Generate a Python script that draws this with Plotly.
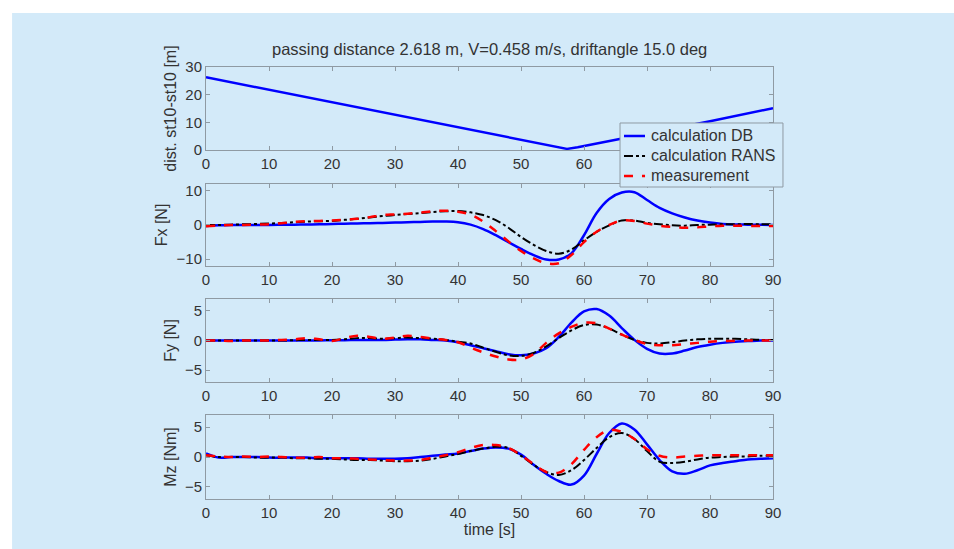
import plotly.graph_objects as go
from plotly.subplots import make_subplots

# ---------------- data ----------------
dist_time = [0, 10, 20, 30, 40, 50, 56, 57.3, 59, 70, 80, 90]
dist_db = [26.3, 21.8, 17.3, 12.7, 8.1, 3.6, 0.9, 0.4, 1.0, 5.9, 10.4, 15.1]

time = list(range(0, 92, 2))

fx_db = [-0.3, -0.1, 0, 0, 0, 0, 0.05, 0.1, 0.15, 0.2, 0.3, 0.35, 0.45, 0.5, 0.6, 0.7,
         0.8, 0.9, 1.0, 1.0, 0.8, 0.1, -1.2, -3.0, -5.0, -7.0, -8.8, -10.1, -10.1, -8.3,
         -3.0, 3.5, 7.6, 9.5, 9.6, 7.3, 5.0, 3.4, 2.2, 1.3, 0.7, 0.3, 0.15, 0.1, 0.05, 0]
fx_rans = [0, 0, 0.1, 0.2, 0.3, 0.4, 0.6, 0.8, 1.0, 1.1, 1.2, 1.5, 1.8, 2.2, 2.6, 2.9,
           3.2, 3.5, 3.8, 4.0, 4.1, 3.7, 2.9, 1.4, -0.8, -3.5, -5.8, -7.6, -8.4, -7.2,
           -4.5, -2.0, -0.1, 1.3, 1.3, 0.6, 0.2, -0.1, -0.2, 0.0, 0.1, 0.2, 0.2, 0.3, 0.2, 0.2]
fx_meas = [-0.4, -0.2, 0, 0, 0.1, 0.2, 0.5, 0.9, 1.1, 1.2, 1.3, 1.5, 1.8, 2.3, 2.9, 3.1,
           3.3, 3.6, 4.0, 4.2, 3.9, 3.0, 1.0, -1.8, -4.8, -7.6, -9.8, -11.2, -11.2, -8.8,
           -5.0, -2.0, 0.0, 1.3, 1.2, 0.4, -0.2, -0.6, -0.8, -0.7, -0.4, -0.2, -0.2, -0.3, -0.3, -0.3]

fy_db = [0, 0, 0, 0, 0, 0, 0, 0, 0, 0, 0.05, 0.05, 0.1, 0.1, 0.1, 0.15,
         0.2, 0.2, 0.1, 0, -0.3, -0.8, -1.3, -1.8, -2.3, -2.5, -2.2, -1.3, 0.6, 3.0,
         4.9, 5.3, 4.2, 2.1, 0.1, -1.4, -2.2, -2.2, -1.7, -1.1, -0.7, -0.4, -0.2, -0.1, 0, 0]
fy_rans = [0, 0, 0, 0, 0, 0, 0, 0.05, 0.1, 0.1, 0.1, 0.2, 0.4, 0.4, 0.3, 0.4,
           0.5, 0.4, 0.3, 0.1, -0.2, -0.5, -1.2, -1.9, -2.5, -2.6, -2.1, -1.0, 0.4, 1.7,
           2.6, 2.7, 2.0, 1.0, 0.1, -0.4, -0.5, -0.3, 0, 0.2, 0.3, 0.3, 0.3, 0.2, 0.1, 0.1]
fy_meas = [0, 0, -0.1, 0, 0, 0, 0.1, 0.2, 0.4, 0.2, -0.1, 0.4, 0.8, 0.6, 0.3, 0.5,
           0.8, 0.6, 0.3, 0.1, -0.3, -1.2, -2.0, -2.7, -3.2, -3.2, -2.3, -0.4, 1.2, 2.3,
           3.0, 2.9, 2.0, 1.0, 0.1, -0.6, -0.8, -0.8, -0.6, -0.4, -0.2, -0.1, -0.1, 0, 0, 0]

mz_db = [0.6, -0.1, 0, 0, 0, -0.1, -0.1, -0.1, -0.1, -0.2, -0.2, -0.2, -0.2, -0.3, -0.3, -0.3,
         -0.2, 0.0, 0.2, 0.4, 0.6, 1.0, 1.4, 1.6, 1.4, 0.4, -1.3, -2.8, -4.0, -4.6,
         -3.1, 0.5, 4.0, 5.6, 4.6, 2.1, -0.5, -2.4, -2.8, -2.2, -1.4, -1.0, -0.7, -0.4, -0.3, -0.2]
mz_rans = [0.3, 0, 0, 0, -0.1, -0.1, -0.1, -0.2, -0.2, -0.3, -0.3, -0.4, -0.5, -0.5, -0.6, -0.7,
           -0.7, -0.6, -0.3, 0.1, 0.5, 1.0, 1.4, 1.7, 1.5, 0.2, -1.3, -2.5, -3.0, -2.2,
           -0.5, 1.5, 3.3, 4.0, 3.0, 1.0, -0.8, -1.0, -0.8, -0.4, -0.1, 0, 0.1, 0.1, 0.2, 0.2]
mz_meas = [0.3, 0.1, 0, 0.1, 0, 0.1, 0, -0.1, -0.1, 0, -0.2, -0.2, -0.3, -0.4, -0.5, -0.6,
           -0.6, -0.5, -0.1, 0.3, 0.8, 1.5, 2.0, 2.0, 1.5, 0.3, -1.2, -2.5, -2.6, -1.2,
           1.2, 3.3, 4.5, 4.2, 3.0, 1.3, 0.2, -0.1, 0.1, 0.2, 0.3, 0.3, 0.3, 0.3, 0.3, 0.3]

title_text = "passing distance 2.618 m, V=0.458 m/s, driftangle 15.0 deg"
y_titles = ["dist. st10-st10 [m]", "Fx [N]", "Fy [N]", "Mz [Nm]"]
y_ranges = [[0, 30], [-12, 12], [-7, 7], [-7, 7]]
y_ticks = [[0, 10, 20, 30], [-10, 0, 10], [-5, 0, 5], [-5, 0, 5]]
x_ticks = [0, 10, 20, 30, 40, 50, 60, 70, 80, 90]
x_ticktext_top = ["0", "10", "20", "30", "40", "50", "60", "", "", ""]  # 70-90 hidden behind legend
series_names = ["calculation DB", "calculation RANS", "measurement"]

# ---------------- styling ----------------
BG = "#d3eaf9"
FONT = "Liberation Sans, Arial, sans-serif"
TXT = "#333333"
AXC = "#8f9aa3"
styles = [dict(color="#0000ff", width=2.5, dash="solid"),
          dict(color="#000000", width=2, dash="dashdot"),
          dict(color="#ff0000", width=2.5, dash="dash")]

fig = make_subplots(rows=4, cols=1)

domains = [[0.8079, 1.0], [0.5394, 0.7292], [0.2708, 0.4630], [0.0, 0.1944]]

fig.add_trace(go.Scatter(x=dist_time, y=dist_db, mode="lines", line=styles[0],
                         name=series_names[0], showlegend=False),
              row=1, col=1)

panels = [(fx_db, fx_rans, fx_meas), (fy_db, fy_rans, fy_meas), (mz_db, mz_rans, mz_meas)]
for p, vals in enumerate(panels):
    for k, v in enumerate(vals):
        fig.add_trace(go.Scatter(x=time, y=v, mode="lines", line=styles[k],
                                 line_shape="spline", name=series_names[k],
                                 showlegend=False),
                      row=p + 2, col=1)

common = dict(showline=True, linecolor=AXC, linewidth=1, mirror="ticks", ticks="inside",
              ticklen=4, tickcolor=AXC, showgrid=False, zeroline=False,
              tickfont=dict(size=15, color=TXT, family=FONT))
fig.update_xaxes(**common)
fig.update_yaxes(**common)

for i in range(4):
    fig.update_yaxes(domain=domains[i], range=y_ranges[i], tickvals=y_ticks[i],
                     title=dict(text=y_titles[i], font=dict(size=16, color=TXT, family=FONT),
                                standoff=4),
                     row=i + 1, col=1)
    fig.update_xaxes(range=[0, 90], tickvals=x_ticks, row=i + 1, col=1)

fig.update_xaxes(ticktext=x_ticktext_top, row=1, col=1)
fig.update_xaxes(title=dict(text="time [s]", font=dict(size=16, color=TXT, family=FONT),
                            standoff=2), row=4, col=1)

# page background panel (white frame top/left as in the original)
fig.add_shape(type="rect", xref="paper", yref="paper",
              x0=-0.342, x1=1.4, y0=-0.2, y1=1.125,
              fillcolor=BG, line=dict(width=0), layer="below")

fig.add_annotation(text=title_text, xref="paper", yref="paper", x=0.5, y=1.0417,
                   showarrow=False, xanchor="center", yanchor="middle",
                   font=dict(size=16.5, color=TXT, family=FONT))

# legend box (drawn like the MATLAB legend, overlapping the top panel)
leg_x0, leg_x1, leg_y0, leg_y1 = 0.7302, 1.0176, 0.7222, 0.8704
fig.add_shape(type="rect", xref="paper", yref="paper",
              x0=leg_x0, x1=leg_x1, y0=leg_y0, y1=leg_y1,
              fillcolor=BG, line=dict(color=AXC, width=1), layer="above")
leg_rows = [0.8403, 0.7940, 0.7477]
for k, name in enumerate(series_names):
    fig.add_shape(type="line", xref="paper", yref="paper",
                  x0=0.7372, x1=0.7743, y0=leg_rows[k], y1=leg_rows[k],
                  line=styles[k], layer="above")
    fig.add_annotation(text=name, xref="paper", yref="paper", x=0.7815, y=leg_rows[k],
                       showarrow=False, xanchor="left", yanchor="middle",
                       font=dict(size=16, color=TXT, family=FONT))

fig.update_layout(
    width=954, height=549,
    margin=dict(l=206, r=181, t=67, b=50),
    paper_bgcolor="white", plot_bgcolor=BG,
    font=dict(family=FONT, color=TXT, size=15),
    showlegend=False,
)

fig.write_html(
    "out.html",
    config={"displayModeBar": False},
    post_script=("document.documentElement.style.overflow='hidden';"
                 "document.documentElement.style.background='" + BG + "';"
                 "document.body.style.margin='0px';"
                 "document.body.style.overflow='hidden';"
                 "document.body.style.background='" + BG + "';"),
)
